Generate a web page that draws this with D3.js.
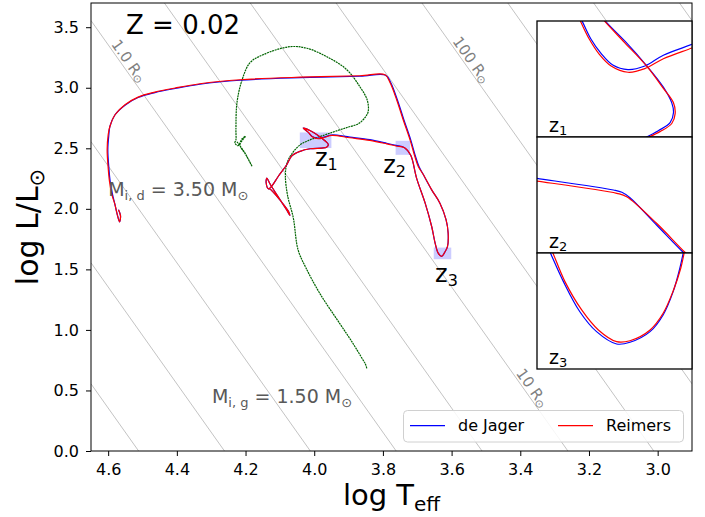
<!DOCTYPE html>
<html>
<head>
<meta charset="utf-8">
<style>
    body { margin: 0; background: #fff; }
    svg { font-family: 'DejaVu Sans', sans-serif; }
</style>
</head>
<body>
<svg width="705" height="517"></svg>

<script src="https://d3js.org/d3.v7.min.js"></script>
<script>
    // ticks
    const xTicks = [4.6, 4.4, 4.2, 4.0, 3.8, 3.6, 3.4, 3.2, 3.0];
    const yTicks = [0.0, 0.5, 1.0, 1.5, 2.0, 2.5, 3.0, 3.5];

    // constant radius lines (log R / Rsun) and the three labelled ones
    const radiusLogR = [-1.5, -1, -0.5, 0, 0.5, 1, 1.5, 2, 2.5, 3, 3.5, 4];
    const labelLogR = [0, 1, 2];
    const labelText = ["1.0", "10", "100"];
    const labelLogL = [3.22, 0.52, 3.23];

    // 3.5 Msun donor, Reimers wind
    const reimersT = [4.570, 4.564, 4.567, 4.574, 4.580, 4.589, 4.596, 4.600, 4.603, 4.600,
        4.595, 4.580, 4.551, 4.513, 4.464, 4.405, 4.333, 4.216, 4.041, 3.867,
        3.794, 3.779, 3.760, 3.741, 3.721, 3.707, 3.697, 3.682, 3.658, 3.634,
        3.616, 3.610, 3.612, 3.621, 3.629, 3.639, 3.648, 3.658, 3.677, 3.702,
        3.719, 3.737, 3.762, 3.789, 3.838, 3.896, 3.949, 3.969, 3.988, 4.006,
        4.017, 4.032, 4.002, 3.980, 3.959, 3.964, 3.978, 4.012, 4.041, 4.065,
        4.080, 4.105, 4.123, 4.133, 4.140, 4.138, 4.129, 4.105, 4.082, 4.071,
        4.076, 4.100, 4.120, 4.130];
    const reimersL = [1.992, 1.942, 1.893, 1.959, 2.033, 2.116, 2.223, 2.339, 2.488, 2.612,
        2.680, 2.777, 2.860, 2.923, 2.964, 2.998, 3.033, 3.066, 3.087, 3.099,
        3.107, 3.041, 2.901, 2.736, 2.570, 2.432, 2.350, 2.281, 2.157, 2.047,
        1.909, 1.799, 1.688, 1.636, 1.607, 1.634, 1.717, 1.854, 2.047, 2.254,
        2.442, 2.504, 2.519, 2.537, 2.566, 2.587, 2.606, 2.591, 2.579, 2.595,
        2.631, 2.667, 2.631, 2.587, 2.531, 2.508, 2.502, 2.496, 2.475, 2.438,
        2.364, 2.267, 2.190, 2.165, 2.215, 2.254, 2.207, 2.099, 2.000, 1.946,
        1.983, 2.074, 2.140, 2.169];

    // 3.5 Msun donor, de Jager wind
    const deJagerT = [4.570, 4.564, 4.567, 4.574, 4.580, 4.587, 4.594, 4.598, 4.601, 4.598,
        4.595, 4.580, 4.551, 4.513, 4.464, 4.405, 4.333, 4.216, 4.041, 3.867,
        3.792, 3.777, 3.758, 3.739, 3.719, 3.705, 3.695, 3.682, 3.658, 3.634,
        3.616, 3.610, 3.612, 3.621, 3.629, 3.639, 3.648, 3.658, 3.677, 3.702,
        3.719, 3.737, 3.762, 3.789, 3.838, 3.896, 3.949, 3.969, 3.988, 4.006,
        4.017, 4.032, 4.002, 3.980, 3.959, 3.964, 3.978, 4.012, 4.041, 4.065,
        4.080, 4.105, 4.123, 4.133, 4.140, 4.138, 4.129, 4.105, 4.082, 4.071,
        4.076, 4.100, 4.120, 4.130];
    const deJagerL = [1.992, 1.942, 1.893, 1.959, 2.033, 2.116, 2.223, 2.339, 2.488, 2.612,
        2.680, 2.777, 2.856, 2.919, 2.960, 2.994, 3.029, 3.062, 3.083, 3.095,
        3.104, 3.041, 2.901, 2.736, 2.570, 2.432, 2.350, 2.281, 2.157, 2.047,
        1.909, 1.799, 1.688, 1.636, 1.607, 1.634, 1.717, 1.854, 2.047, 2.254,
        2.442, 2.504, 2.524, 2.542, 2.571, 2.592, 2.610, 2.595, 2.583, 2.598,
        2.631, 2.667, 2.631, 2.587, 2.531, 2.508, 2.502, 2.496, 2.475, 2.438,
        2.364, 2.267, 2.190, 2.165, 2.215, 2.254, 2.207, 2.099, 2.000, 1.946,
        1.983, 2.074, 2.140, 2.169];

    // 1.5 Msun gainer
    const gainerT = [3.847, 3.851, 3.858, 3.890, 3.925, 3.983, 4.024, 4.047, 4.061, 4.078,
        4.084, 4.079, 4.065, 4.041, 4.012, 3.977, 3.939, 3.902, 3.872, 3.855,
        3.843, 3.846, 3.867, 3.905, 3.963, 4.021, 4.071, 4.149, 4.187, 4.210,
        4.225, 4.228, 4.228, 4.231, 4.222, 4.210, 4.200, 4.216, 4.199, 4.181,
        4.204, 4.225];
    const gainerL = [0.683, 0.719, 0.752, 0.901, 1.050, 1.298, 1.512, 1.661, 1.926, 2.116,
        2.281, 2.380, 2.455, 2.529, 2.570, 2.603, 2.640, 2.674, 2.702, 2.744,
        2.802, 2.901, 3.008, 3.149, 3.256, 3.326, 3.339, 3.273, 3.207, 3.066,
        2.876, 2.653, 2.570, 2.545, 2.521, 2.579, 2.599, 2.529, 2.446, 2.351,
        2.471, 2.554];

    // zoom windows z1, z2, z3
    const zoomT = [[4.042, 3.950], [3.763, 3.721], [3.652, 3.601]];
    const zoomL = [[2.502, 2.631], [2.446, 2.562], [1.584, 1.680]];
    const zoomLabelT = [3.998, 3.799, 3.648];
    const zoomLabelL = [2.350, 2.295, 1.399];

    // detailed track pieces shown in the zoom panels
    const z1ReimersT = [3.945, 3.950, 3.967, 3.978, 3.988, 3.998, 4.005, 4.011, 4.016, 4.0185, 4.032,
        4.006, 4.0015, 3.990, 3.977, 3.967, 3.961, 3.960, 3.962, 3.969, 3.978, 3.986];
    const z1ReimersL = [2.605, 2.601, 2.589, 2.578, 2.574, 2.581, 2.594, 2.611, 2.630, 2.640, 2.667,
        2.640, 2.630, 2.607, 2.581, 2.556, 2.540, 2.528, 2.517, 2.508, 2.500, 2.493];
    const z1DeJagerT = [3.945, 3.950, 3.967, 3.978, 3.988, 3.997, 4.004, 4.010, 4.015, 4.018, 4.032,
        4.005, 4.001, 3.9895, 3.977, 3.967, 3.962, 3.961, 3.963, 3.970, 3.979, 3.987];
    const z1DeJagerL = [2.609, 2.605, 2.593, 2.581, 2.577, 2.582, 2.595, 2.611, 2.630, 2.640, 2.667,
        2.640, 2.630, 2.608, 2.5815, 2.5575, 2.540, 2.529, 2.518, 2.509, 2.500, 2.493];

    const z2ReimersT = [3.7663, 3.7631, 3.7414, 3.7387, 3.7306, 3.7229, 3.7196];
    const z2ReimersL = [2.5197, 2.5180, 2.5057, 2.5023, 2.4757, 2.4467, 2.4360];
    const z2DeJagerT = [3.7663, 3.7631, 3.7423, 3.7400, 3.7378, 3.7306, 3.7234, 3.7202];
    const z2DeJagerL = [2.5225, 2.5207, 2.5090, 2.5067, 2.5013, 2.4740, 2.4467, 2.4360];

    const z3ReimersT = [3.6479, 3.6466, 3.6428, 3.6373, 3.6318, 3.6258, 3.6214, 3.6148, 3.6105, 3.6072, 3.6047, 3.6036, 3.6027];
    const z3ReimersL = [1.6867, 1.6790, 1.6563, 1.6329, 1.6163, 1.6066, 1.6074, 1.6163, 1.6301, 1.6486, 1.6674, 1.6798, 1.6908];
    const z3DeJagerT = [3.6487, 3.6474, 3.6433, 3.6379, 3.6324, 3.6258, 3.6214, 3.6148, 3.6105, 3.6072, 3.6050, 3.6039, 3.6030];
    const z3DeJagerL = [1.6867, 1.6790, 1.6563, 1.6314, 1.6149, 1.6047, 1.6061, 1.6149, 1.6287, 1.6480, 1.6674, 1.6798, 1.6908];

    const legendNames = ["de Jager", "Reimers"];
    const legendColors = ["#0000ff", "#ff0000"];

    // ------------------------------------------------------------------
    let svg = d3.select("svg")

    let pLeft = 91, pRight = 692, pTop = 3, pBottom = 451;

    let x = d3.scaleLinear().domain([4.65, 2.9]).range([pLeft, pRight])
    let y = d3.scaleLinear().domain([0, 3.7]).range([pBottom, pTop])

    let defs = svg.append("defs")
    defs.append("clipPath").attr("id", "plotclip")
        .append("rect")
        .attr("x", pLeft).attr("y", pTop)
        .attr("width", pRight - pLeft).attr("height", pBottom - pTop)

    let pts = (T, L) => T.map((t, i) => [t, L[i]])

    // radius lines, L = 4 pi R^2 sigma T^4
    let logTsun = Math.log10(5772)
    let radL = (r, t) => 2 * r + 4 * (t - logTsun)

    let rg = svg.append("g").attr("clip-path", "url(#plotclip)")
    radiusLogR.forEach(r => {
        rg.append("line")
            .attr("x1", x(4.65)).attr("y1", y(radL(r, 4.65)))
            .attr("x2", x(2.9)).attr("y2", y(radL(r, 2.9)))
            .style("stroke", "#b4b4b4")
            .style("stroke-width", 0.8)
    })

    let angle = Math.atan2(y(radL(0, 2.9)) - y(radL(0, 4.65)), x(2.9) - x(4.65)) * 180 / Math.PI

    labelLogR.forEach((r, i) => {
        let t = logTsun + (labelLogL[i] - 2 * r) / 4
        let t1 = svg.append("text")
            .attr("transform", "translate(" + (x(t) + 9) + "," + y(labelLogL[i]) + ") rotate(" + angle + ")")
            .attr("text-anchor", "middle")
            .attr("dominant-baseline", "central")
            .style("font-size", "15px")
            .style("fill", "#808080")
        t1.append("tspan").text(labelText[i] + " R")
        t1.append("tspan").attr("dy", 3).style("font-size", "11px").text("\u2299")
    })

    // zoom boxes
    zoomT.forEach((zt, i) => {
        svg.append("rect")
            .attr("x", x(zt[0])).attr("y", y(zoomL[i][1]))
            .attr("width", x(zt[1]) - x(zt[0]))
            .attr("height", y(zoomL[i][0]) - y(zoomL[i][1]))
            .style("fill", "#0000ff")
            .style("fill-opacity", 0.2)
    })

    let curve = d3.curveCatmullRom.alpha(0.5)
    let path = d3.line().x(d => x(d[0])).y(d => y(d[1])).curve(curve)

    let tg = svg.append("g").attr("clip-path", "url(#plotclip)")

    tg.append("path")
        .attr("d", path(pts(gainerT, gainerL)))
        .style("fill", "none")
        .style("stroke", "#006400")
        .style("stroke-width", 1.2)
        .style("stroke-dasharray", "2,0.7")

    tg.append("path")
        .attr("d", path(pts(deJagerT, deJagerL)))
        .style("fill", "none")
        .style("stroke", legendColors[0])
        .style("stroke-width", 1.2)

    tg.append("path")
        .attr("d", path(pts(reimersT, reimersL)))
        .style("fill", "none")
        .style("stroke", legendColors[1])
        .style("stroke-width", 1.2)

    // labels z1 z2 z3 beside the boxes
    zoomLabelT.forEach((t, i) => {
        let zt = svg.append("text")
            .attr("x", x(t)).attr("y", y(zoomLabelL[i]))
            .style("font-size", "24px")
        zt.append("tspan").text("z")
        zt.append("tspan").attr("dy", 4).style("font-size", "16px").text(i + 1)
    })

    // text annotations
    svg.append("text")
        .attr("x", 126).attr("y", 34)
        .style("font-size", "26px")
        .text("Z = 0.02")

    let massLabel = (t, l, sub, val) => {
        let m = svg.append("text")
            .attr("x", x(t)).attr("y", y(l))
            .style("font-size", "19px")
            .style("fill", "#595959")
        m.append("tspan").text("M")
        m.append("tspan").attr("dy", 4).style("font-size", "13px").text(sub)
        m.append("tspan").attr("dy", -4).text(" = " + val + " M")
        m.append("tspan").attr("dy", 4).style("font-size", "13px").text("\u2299")
    }
    massLabel(4.600, 2.102, "i, d", "3.50")
    massLabel(4.298, 0.397, "i, g", "1.50")

    // axes
    let xAxis = svg.append("g")
        .attr("transform", "translate(0," + pBottom + ")")
        .call(d3.axisBottom(x).tickValues(xTicks).tickFormat(d3.format(".1f")).tickSize(5).tickPadding(8))
    let yAxis = svg.append("g")
        .attr("transform", "translate(" + pLeft + ",0)")
        .call(d3.axisLeft(y).tickValues(yTicks).tickFormat(d3.format(".1f")).tickSize(5).tickPadding(7))

    ;[xAxis, yAxis].forEach(a => {
        a.select(".domain").remove()
        a.selectAll("text").style("font-size", "16px").style("font-family", "'DejaVu Sans', sans-serif").style("fill", "#000")
        a.selectAll("line").style("stroke", "#000").style("stroke-width", 1)
    })

    svg.append("rect")
        .attr("x", pLeft).attr("y", pTop)
        .attr("width", pRight - pLeft).attr("height", pBottom - pTop)
        .style("fill", "none")
        .style("stroke", "#000")
        .style("stroke-width", 1)

    // axis titles
    let xl = svg.append("text")
        .attr("x", (pLeft + pRight) / 2).attr("y", 505)
        .attr("text-anchor", "middle")
        .style("font-size", "29px")
    xl.append("tspan").text("log T")
    xl.append("tspan").attr("dy", 6).style("font-size", "20px").text("eff")

    let yl = svg.append("text")
        .attr("transform", "translate(38," + (pTop + pBottom) / 2 + ") rotate(-90)")
        .attr("text-anchor", "middle")
        .style("font-size", "30px")
    yl.append("tspan").text("log L/L")
    yl.append("tspan").attr("dy", 6).style("font-size", "21px").text("\u2299")

    // zoom panels
    let insetLeft = 537, insetW = pRight - insetLeft, insetH = 116, insetTop = 21
    let zoomData = [
        [pts(z1DeJagerT, z1DeJagerL), pts(z1ReimersT, z1ReimersL)],
        [pts(z2DeJagerT, z2DeJagerL), pts(z2ReimersT, z2ReimersL)],
        [pts(z3DeJagerT, z3DeJagerL), pts(z3ReimersT, z3ReimersL)]
    ]

    zoomData.forEach((series, i) => {
        let y0 = insetTop + i * insetH
        let xi = d3.scaleLinear().domain(zoomT[i]).range([insetLeft, insetLeft + insetW])
        let yi = d3.scaleLinear().domain(zoomL[i]).range([y0 + insetH, y0])

        defs.append("clipPath").attr("id", "zclip" + i)
            .append("rect")
            .attr("x", insetLeft).attr("y", y0)
            .attr("width", insetW).attr("height", insetH)

        let g = svg.append("g")
        g.append("rect")
            .attr("x", insetLeft).attr("y", y0)
            .attr("width", insetW).attr("height", insetH)
            .style("fill", "#fff")

        let ip = d3.line().x(d => xi(d[0])).y(d => yi(d[1])).curve(curve)
        let cg = g.append("g").attr("clip-path", "url(#zclip" + i + ")")
        series.forEach((s, k) => {
            cg.append("path")
                .attr("d", ip(s))
                .style("fill", "none")
                .style("stroke", legendColors[k])
                .style("stroke-width", 1.2)
        })

        let lab = g.append("text")
            .attr("x", insetLeft + 12).attr("y", y0 + insetH - 5)
            .style("font-size", "19px")
        lab.append("tspan").text("z")
        lab.append("tspan").attr("dy", 3).style("font-size", "13px").text(i + 1)

        g.append("rect")
            .attr("x", insetLeft).attr("y", y0)
            .attr("width", insetW).attr("height", insetH)
            .style("fill", "none")
            .style("stroke", "#000")
            .style("stroke-width", 1.3)
    })

    // legend
    let lg = svg.append("g")
    lg.append("rect")
        .attr("x", 403.5).attr("y", 410.5)
        .attr("width", 280).attr("height", 31.5)
        .attr("rx", 4)
        .style("fill", "#fff")
        .style("fill-opacity", 0.85)
        .style("stroke", "#d0d0d0")
        .style("stroke-width", 1)

    legendNames.forEach((n, i) => {
        let lx = 410 + i * 148
        lg.append("line")
            .attr("x1", lx).attr("x2", lx + 35)
            .attr("y1", 425.7).attr("y2", 425.7)
            .style("stroke", legendColors[i])
            .style("stroke-width", 1.2)
        lg.append("text")
            .attr("x", lx + 48).attr("y", 431)
            .style("font-size", "16px")
            .text(n)
    })
</script>
</body>
</html>
